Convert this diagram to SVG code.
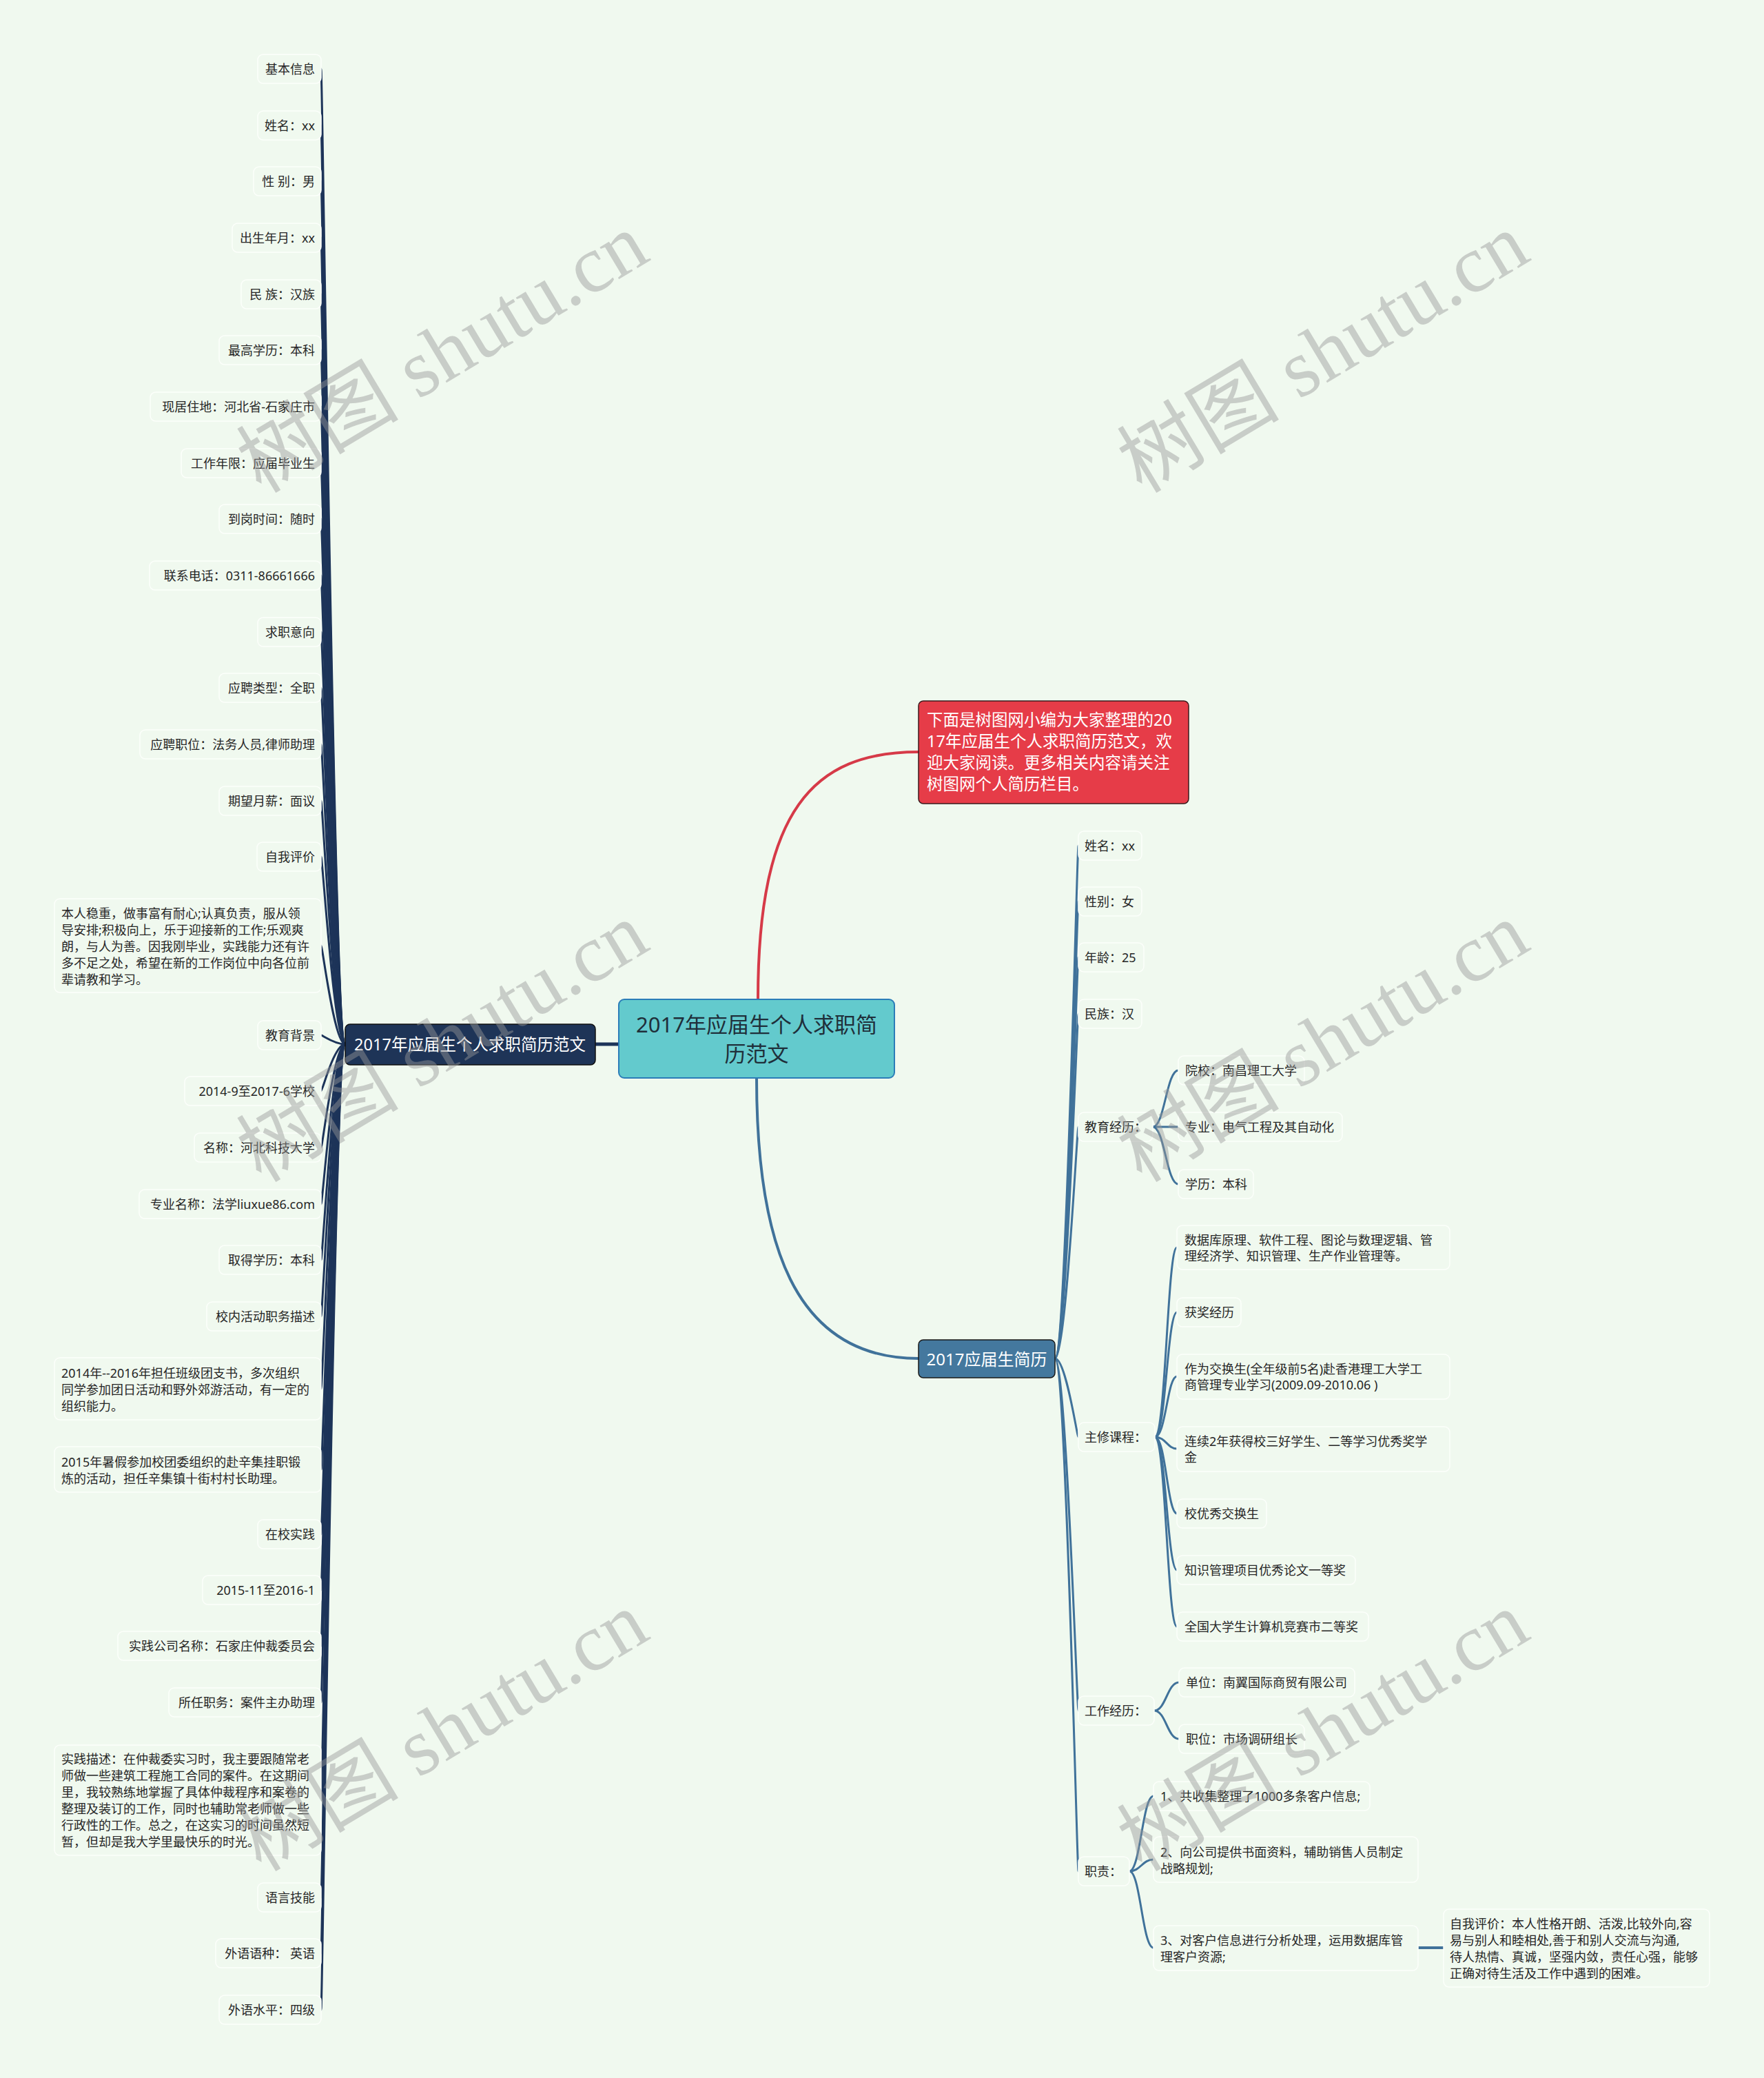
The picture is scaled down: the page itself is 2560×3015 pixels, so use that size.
<svg xmlns="http://www.w3.org/2000/svg" width="2560" height="3015" viewBox="0 0 2560 3015">
<style>
text{font-family:"Noto Sans","Noto Sans CJK SC",sans-serif;dominant-baseline:central}
.t{font-size:18px;fill:#262626}
.e{text-anchor:end}
.n{fill:#f0f9ef;stroke:#fcfffb;stroke-width:1.5}
.lc{fill:none;stroke:#1d3459;stroke-width:3}
.rc{fill:none;stroke:#40729a;stroke-width:3}
.wm{font-family:"Liberation Serif","Noto Sans CJK SC",serif;font-size:118px;fill:#999999;opacity:.45;dominant-baseline:auto}
</style>
<rect x="0" y="0" width="2560" height="3015" fill="#f0f9ef"/>

<g id="connectors">
<path d="M1100 1450 C1100 1175 1180 1091 1333 1091" fill="none" stroke="#d63a48" stroke-width="4"/>
<path d="M1098 1564 C1098 1800 1150 1971 1333 1971" fill="none" stroke="#40729a" stroke-width="4"/>
<path d="M898 1515 L864 1515" fill="none" stroke="#1d3459" stroke-width="5"/>
<g class="lc">
<path d="M501 1515 C485 1515 468 100 466 100"/>
<path d="M501 1515 C485 1515 468 182 466 182"/>
<path d="M501 1515 C485 1515 468 263 466 263"/>
<path d="M501 1515 C485 1515 468 345 466 345"/>
<path d="M501 1515 C485 1515 468 427 466 427"/>
<path d="M501 1515 C485 1515 468 508 466 508"/>
<path d="M501 1515 C485 1515 468 590 466 590"/>
<path d="M501 1515 C485 1515 468 672 466 672"/>
<path d="M501 1515 C485 1515 468 753 466 753"/>
<path d="M501 1515 C485 1515 468 835 466 835"/>
<path d="M501 1515 C485 1515 468 917 466 917"/>
<path d="M501 1515 C485 1515 468 998 466 998"/>
<path d="M501 1515 C485 1515 468 1080 466 1080"/>
<path d="M501 1515 C485 1515 468 1162 466 1162"/>
<path d="M501 1515 C485 1515 468 1243 466 1243"/>
<path d="M501 1515 C485 1515 468 1372 466 1372"/>
<path d="M501 1515 C485 1515 468 1502 466 1502"/>
<path d="M501 1515 C485 1515 468 1583 466 1583"/>
<path d="M501 1515 C485 1515 468 1665 466 1665"/>
<path d="M501 1515 C485 1515 468 1747 466 1747"/>
<path d="M501 1515 C485 1515 468 1828 466 1828"/>
<path d="M501 1515 C485 1515 468 1910 466 1910"/>
<path d="M501 1515 C485 1515 468 2015 466 2015"/>
<path d="M501 1515 C485 1515 468 2132 466 2132"/>
<path d="M501 1515 C485 1515 468 2226 466 2226"/>
<path d="M501 1515 C485 1515 468 2307 466 2307"/>
<path d="M501 1515 C485 1515 468 2388 466 2388"/>
<path d="M501 1515 C485 1515 468 2470 466 2470"/>
<path d="M501 1515 C485 1515 468 2612 466 2612"/>
<path d="M501 1515 C485 1515 468 2753 466 2753"/>
<path d="M501 1515 C485 1515 468 2834 466 2834"/>
<path d="M501 1515 C485 1515 468 2916 466 2916"/>
</g>
<g class="rc">
<path d="M1531 1971 C1547 1971 1563 1227 1565 1227"/>
<path d="M1531 1971 C1547 1971 1563 1308 1565 1308"/>
<path d="M1531 1971 C1547 1971 1563 1389 1565 1389"/>
<path d="M1531 1971 C1547 1971 1563 1471 1565 1471"/>
<path d="M1531 1971 C1547 1971 1563 1635 1565 1635"/>
<path d="M1531 1971 C1547 1971 1563 2085 1565 2085"/>
<path d="M1531 1971 C1547 1971 1563 2482 1565 2482"/>
<path d="M1531 1971 C1547 1971 1563 2715 1565 2715"/>
<path d="M1673 1635 C1690 1635 1693 1553 1710 1553"/>
<path d="M1673 1635 L1710 1635"/>
<path d="M1673 1635 C1690 1635 1693 1718 1710 1718"/>
<path d="M1676 2085 C1692 2085 1694 1810 1708 1810"/>
<path d="M1676 2085 C1692 2085 1694 1904 1708 1904"/>
<path d="M1676 2085 C1692 2085 1694 1997 1708 1997"/>
<path d="M1676 2085 C1692 2085 1694 2102 1708 2102"/>
<path d="M1676 2085 C1692 2085 1694 2196 1708 2196"/>
<path d="M1676 2085 C1692 2085 1694 2278 1708 2278"/>
<path d="M1676 2085 C1692 2085 1694 2360 1708 2360"/>
<path d="M1675 2482 C1692 2482 1694 2441 1711 2441"/>
<path d="M1675 2482 C1692 2482 1694 2523 1711 2523"/>
<path d="M1639 2715 C1655 2715 1658 2606 1674 2606"/>
<path d="M1639 2715 C1655 2715 1658 2698 1674 2698"/>
<path d="M1639 2715 C1655 2715 1658 2826 1674 2826"/>
<path d="M2058 2826 L2095 2826" stroke-width="4"/>
</g>
</g>

<g id="root">
<rect x="898" y="1450" width="400" height="114" rx="8" fill="#63cacd" stroke="#2b7db8" stroke-width="2"/>
<text x="1098" y="1486" text-anchor="middle" font-size="31" fill="#1f2f3a">2017年应届生个人求职简</text>
<text x="1098" y="1528" text-anchor="middle" font-size="31" fill="#1f2f3a">历范文</text>
</g>

<g id="intro">
<rect x="1333" y="1017" width="392" height="149" rx="7" fill="#e63c48" stroke="#3a1a1c" stroke-width="1.5"/>
<text x="1345" y="1044" font-size="23.5" fill="#ffffff">下面是树图网小编为大家整理的20</text>
<text x="1345" y="1075" font-size="23.5" fill="#ffffff">17年应届生个人求职简历范文，欢</text>
<text x="1345" y="1106" font-size="23.5" fill="#ffffff">迎大家阅读。更多相关内容请关注</text>
<text x="1345" y="1137" font-size="23.5" fill="#ffffff">树图网个人简历栏目。</text>
</g>

<g id="left-main">
<rect x="501" y="1486" width="363" height="59" rx="7" fill="#1e3457" stroke="#111" stroke-width="1.5"/>
<text x="682" y="1515" text-anchor="middle" font-size="23.5" fill="#ffffff">2017年应届生个人求职简历范文</text>
</g>

<g id="right-main">
<rect x="1333" y="1944" width="198" height="55" rx="7" fill="#44789e" stroke="#1a1a1a" stroke-width="1.5"/>
<text x="1432" y="1971" text-anchor="middle" font-size="24" fill="#ffffff">2017应届生简历</text>
</g>

<g id="L1"><rect class="n" x="374" y="79" width="92" height="42" rx="8"/><text class="t e" x="457" y="100">基本信息</text></g>
<g id="L2"><rect class="n" x="374" y="161" width="92" height="42" rx="8"/><text class="t e" x="457" y="182">姓名：xx</text></g>
<g id="L3"><rect class="n" x="368" y="242" width="98" height="42" rx="8"/><text class="t e" x="457" y="263">性 别：男</text></g>
<g id="L4"><rect class="n" x="337" y="324" width="129" height="42" rx="8"/><text class="t e" x="457" y="345">出生年月：xx</text></g>
<g id="L5"><rect class="n" x="350" y="406" width="116" height="42" rx="8"/><text class="t e" x="457" y="427">民 族：汉族</text></g>
<g id="L6"><rect class="n" x="318" y="487" width="148" height="42" rx="8"/><text class="t e" x="457" y="508">最高学历：本科</text></g>
<g id="L7"><rect class="n" x="218" y="569" width="248" height="42" rx="8"/><text class="t e" x="457" y="590">现居住地：河北省-石家庄市</text></g>
<g id="L8"><rect class="n" x="263" y="651" width="203" height="42" rx="8"/><text class="t e" x="457" y="672">工作年限：应届毕业生</text></g>
<g id="L9"><rect class="n" x="318" y="732" width="148" height="42" rx="8"/><text class="t e" x="457" y="753">到岗时间：随时</text></g>
<g id="L10"><rect class="n" x="217" y="814" width="249" height="42" rx="8"/><text class="t e" x="457" y="835">联系电话：0311-86661666</text></g>
<g id="L11"><rect class="n" x="374" y="896" width="92" height="42" rx="8"/><text class="t e" x="457" y="917">求职意向</text></g>
<g id="L12"><rect class="n" x="318" y="977" width="148" height="42" rx="8"/><text class="t e" x="457" y="998">应聘类型：全职</text></g>
<g id="L13"><rect class="n" x="203" y="1059" width="263" height="42" rx="8"/><text class="t e" x="457" y="1080">应聘职位：法务人员,律师助理</text></g>
<g id="L14"><rect class="n" x="318" y="1141" width="148" height="42" rx="8"/><text class="t e" x="457" y="1162">期望月薪：面议</text></g>
<g id="L15"><rect class="n" x="373" y="1222" width="93" height="42" rx="8"/><text class="t e" x="457" y="1243">自我评价</text></g>
<g id="L16"><rect class="n" x="79" y="1304" width="387" height="136" rx="8"/>
<text class="t" x="89" y="1325">本人稳重，做事富有耐心;认真负责，服从领</text>
<text class="t" x="89" y="1349">导安排;积极向上，乐于迎接新的工作;乐观爽</text>
<text class="t" x="89" y="1373">朗，与人为善。因我刚毕业，实践能力还有许</text>
<text class="t" x="89" y="1397">多不足之处，希望在新的工作岗位中向各位前</text>
<text class="t" x="89" y="1421">辈请教和学习。</text></g>
<g id="L17"><rect class="n" x="374" y="1481" width="92" height="42" rx="8"/><text class="t e" x="457" y="1502">教育背景</text></g>
<g id="L18"><rect class="n" x="268" y="1562" width="198" height="42" rx="8"/><text class="t e" x="457" y="1583">2014-9至2017-6学校</text></g>
<g id="L19"><rect class="n" x="282" y="1644" width="184" height="42" rx="8"/><text class="t e" x="457" y="1665">名称：河北科技大学</text></g>
<g id="L20"><rect class="n" x="202" y="1726" width="264" height="42" rx="8"/><text class="t e" x="457" y="1747">专业名称：法学liuxue86.com</text></g>
<g id="L21"><rect class="n" x="318" y="1807" width="148" height="42" rx="8"/><text class="t e" x="457" y="1828">取得学历：本科</text></g>
<g id="L22"><rect class="n" x="300" y="1889" width="166" height="42" rx="8"/><text class="t e" x="457" y="1910">校内活动职务描述</text></g>
<g id="L23"><rect class="n" x="79" y="1970" width="387" height="90" rx="8"/>
<text class="t" x="89" y="1992">2014年--2016年担任班级团支书，多次组织</text>
<text class="t" x="89" y="2016">同学参加团日活动和野外郊游活动，有一定的</text>
<text class="t" x="89" y="2040">组织能力。</text></g>
<g id="L24"><rect class="n" x="79" y="2099" width="387" height="66" rx="8"/>
<text class="t" x="89" y="2121">2015年暑假参加校团委组织的赴辛集挂职锻</text>
<text class="t" x="89" y="2145">炼的活动，担任辛集镇十街村村长助理。</text></g>
<g id="L25"><rect class="n" x="374" y="2205" width="92" height="42" rx="8"/><text class="t e" x="457" y="2226">在校实践</text></g>
<g id="L26"><rect class="n" x="294" y="2286" width="172" height="42" rx="8"/><text class="t e" x="457" y="2307">2015-11至2016-1</text></g>
<g id="L27"><rect class="n" x="171" y="2367" width="295" height="42" rx="8"/><text class="t e" x="457" y="2388">实践公司名称：石家庄仲裁委员会</text></g>
<g id="L28"><rect class="n" x="245" y="2449" width="221" height="42" rx="8"/><text class="t e" x="457" y="2470">所任职务：案件主办助理</text></g>
<g id="L29"><rect class="n" x="79" y="2532" width="387" height="160" rx="8"/>
<text class="t" x="89" y="2552">实践描述：在仲裁委实习时，我主要跟随常老</text>
<text class="t" x="89" y="2576">师做一些建筑工程施工合同的案件。在这期间</text>
<text class="t" x="89" y="2600">里，我较熟练地掌握了具体仲裁程序和案卷的</text>
<text class="t" x="89" y="2624">整理及装订的工作，同时也辅助常老师做一些</text>
<text class="t" x="89" y="2648">行政性的工作。总之，在这实习的时间虽然短</text>
<text class="t" x="89" y="2672">暂，但却是我大学里最快乐的时光。</text></g>
<g id="L30"><rect class="n" x="374" y="2732" width="92" height="42" rx="8"/><text class="t e" x="457" y="2753">语言技能</text></g>
<g id="L31"><rect class="n" x="313" y="2813" width="153" height="42" rx="8"/><text class="t e" x="457" y="2834">外语语种： 英语</text></g>
<g id="L32"><rect class="n" x="318" y="2895" width="148" height="42" rx="8"/><text class="t e" x="457" y="2916">外语水平：四级</text></g>

<g id="R1"><rect class="n" x="1565" y="1206" width="92" height="42" rx="8"/><text class="t" x="1574" y="1227">姓名：xx</text></g>
<g id="R2"><rect class="n" x="1565" y="1287" width="92" height="42" rx="8"/><text class="t" x="1574" y="1308">性别：女</text></g>
<g id="R3"><rect class="n" x="1565" y="1368" width="95" height="42" rx="8"/><text class="t" x="1574" y="1389">年龄：25</text></g>
<g id="R4"><rect class="n" x="1565" y="1450" width="92" height="42" rx="8"/><text class="t" x="1574" y="1471">民族：汉</text></g>
<g id="R5"><rect class="n" x="1565" y="1614" width="108" height="42" rx="8"/><text class="t" x="1574" y="1635">教育经历：</text></g>
<g id="R5a"><rect class="n" x="1710" y="1532" width="183" height="42" rx="8"/><text class="t" x="1720" y="1553">院校：南昌理工大学</text></g>
<g id="R5b"><rect class="n" x="1710" y="1614" width="238" height="42" rx="8"/><text class="t" x="1720" y="1635">专业：电气工程及其自动化</text></g>
<g id="R5c"><rect class="n" x="1710" y="1697" width="109" height="42" rx="8"/><text class="t" x="1720" y="1718">学历：本科</text></g>
<g id="R6"><rect class="n" x="1565" y="2064" width="111" height="42" rx="8"/><text class="t" x="1574" y="2085">主修课程：</text></g>
<g id="R6a"><rect class="n" x="1708" y="1778" width="396" height="64" rx="8"/>
<text class="t" x="1719" y="1799">数据库原理、软件工程、图论与数理逻辑、管</text>
<text class="t" x="1719" y="1822">理经济学、知识管理、生产作业管理等。</text></g>
<g id="R6b"><rect class="n" x="1708" y="1883" width="93" height="42" rx="8"/><text class="t" x="1719" y="1904">获奖经历</text></g>
<g id="R6c"><rect class="n" x="1708" y="1965" width="396" height="65" rx="8"/>
<text class="t" x="1719" y="1986">作为交换生(全年级前5名)赴香港理工大学工</text>
<text class="t" x="1719" y="2009">商管理专业学习(2009.09-2010.06 )</text></g>
<g id="R6d"><rect class="n" x="1708" y="2070" width="396" height="65" rx="8"/>
<text class="t" x="1719" y="2091">连续2年获得校三好学生、二等学习优秀奖学</text>
<text class="t" x="1719" y="2114">金</text></g>
<g id="R6e"><rect class="n" x="1708" y="2175" width="130" height="42" rx="8"/><text class="t" x="1719" y="2196">校优秀交换生</text></g>
<g id="R6f"><rect class="n" x="1708" y="2257" width="259" height="42" rx="8"/><text class="t" x="1719" y="2278">知识管理项目优秀论文一等奖</text></g>
<g id="R6g"><rect class="n" x="1708" y="2339" width="278" height="42" rx="8"/><text class="t" x="1719" y="2360">全国大学生计算机竞赛市二等奖</text></g>
<g id="R7"><rect class="n" x="1565" y="2461" width="110" height="42" rx="8"/><text class="t" x="1574" y="2482">工作经历：</text></g>
<g id="R7a"><rect class="n" x="1711" y="2420" width="255" height="42" rx="8"/><text class="t" x="1721" y="2441">单位：南翼国际商贸有限公司</text></g>
<g id="R7b"><rect class="n" x="1711" y="2502" width="182" height="42" rx="8"/><text class="t" x="1721" y="2523">职位：市场调研组长</text></g>
<g id="R8"><rect class="n" x="1565" y="2694" width="74" height="42" rx="8"/><text class="t" x="1574" y="2715">职责：</text></g>
<g id="R8a"><rect class="n" x="1674" y="2585" width="314" height="42" rx="8"/><text class="t" x="1684" y="2606">1、共收集整理了1000多条客户信息;</text></g>
<g id="R8b"><rect class="n" x="1674" y="2665" width="384" height="66" rx="8"/>
<text class="t" x="1684" y="2687">2、向公司提供书面资料，辅助销售人员制定</text>
<text class="t" x="1684" y="2711">战略规划;</text></g>
<g id="R8c"><rect class="n" x="1674" y="2794" width="384" height="65" rx="8"/>
<text class="t" x="1684" y="2815">3、对客户信息进行分析处理，运用数据库管</text>
<text class="t" x="1684" y="2839">理客户资源;</text></g>
<g id="R8c1"><rect class="n" x="2095" y="2770" width="386" height="113" rx="8"/>
<text class="t" x="2104" y="2791">自我评价：本人性格开朗、活泼,比较外向,容</text>
<text class="t" x="2104" y="2815">易与别人和睦相处,善于和别人交流与沟通,</text>
<text class="t" x="2104" y="2839">待人热情、真诚，坚强内敛，责任心强，能够</text>
<text class="t" x="2104" y="2863">正确对待生活及工作中遇到的困难。</text></g>

<g id="watermark">
<text class="wm" transform="translate(379 717) rotate(-31)">树图 shutu.cn</text>
<text class="wm" transform="translate(379 1717) rotate(-31)">树图 shutu.cn</text>
<text class="wm" transform="translate(379 2717) rotate(-31)">树图 shutu.cn</text>
<text class="wm" transform="translate(1657 717) rotate(-31)">树图 shutu.cn</text>
<text class="wm" transform="translate(1657 1717) rotate(-31)">树图 shutu.cn</text>
<text class="wm" transform="translate(1657 2717) rotate(-31)">树图 shutu.cn</text>
</g>
</svg>
